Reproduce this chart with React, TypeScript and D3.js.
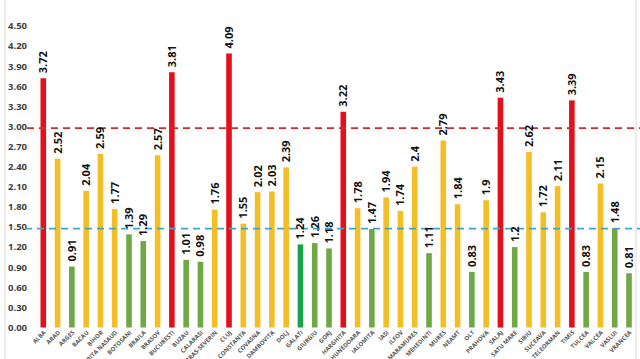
import React from "react";
import * as d3 from "d3";

const counties = ["ALBA","ARAD","ARGES","BACAU","BIHOR","BISTRITA NASAUD","BOTOSANI","BRAILA","BRASOV","BUCURESTI","BUZAU","CALARASI","CARAS-SEVERIN","CLUJ","CONSTANTA","COVASNA","DAMBOVITA","DOLJ","GALATI","GIURGIU","GORJ","HARGHITA","HUNEDOARA","IALOMITA","IASI","ILFOV","MARAMURES","MEHEDINTI","MURES","NEAMT","OLT","PRAHOVA","SALAJ","SATU MARE","SIBIU","SUCEAVA","TELEORMAN","TIMIS","TULCEA","VALCEA","VASLUI","VRANCEA"];
const values = [3.72,2.52,0.91,2.04,2.59,1.77,1.39,1.29,2.57,3.81,1.01,0.98,1.76,4.09,1.55,2.02,2.03,2.39,1.24,1.26,1.18,3.22,1.78,1.47,1.94,1.74,2.4,1.11,2.79,1.84,0.83,1.9,3.43,1.2,2.62,1.72,2.11,3.39,0.83,2.15,1.48,0.81];
const valueLabels = ["3.72","2.52","0.91","2.04","2.59","1.77","1.39","1.29","2.57","3.81","1.01","0.98","1.76","4.09","1.55","2.02","2.03","2.39","1.24","1.26","1.18","3.22","1.78","1.47","1.94","1.74","2.4","1.11","2.79","1.84","0.83","1.9","3.43","1.2","2.62","1.72","2.11","3.39","0.83","2.15","1.48","0.81"];
const tiers = ["r","y","g","y","y","y","g","g","y","r","g","g","y","r","y","y","y","y","G","g","g","r","y","g","y","y","y","g","y","y","g","y","r","g","y","y","y","r","g","y","g","g"];
const yTicks = [0,0.3,0.6,0.9,1.2,1.5,1.8,2.1,2.4,2.7,3.0,3.3,3.6,3.9,4.2,4.5];
const redThreshold = 2.975;
const blueThreshold = 1.475;

const tierColor: Record<string, string> = { r: "#e2101b", y: "#f3bf27", g: "#70a845", G: "#1ba04c" };

export default function App() {
  const W = 640, H = 359;
  const y = d3.scaleLinear().domain([0, 4.5]).range([327.5, 26]);
  const x = d3.scalePoint<string>().domain(counties).range([43.3, 629]);
  const bw = 5.6;
  return (
    <svg width={W} height={H} style={{ position: "absolute", left: 0, top: 0, background: "#fff" }} fontFamily="'Open Sans', 'DejaVu Sans', sans-serif">
      <rect x={0} y={0} width={W} height={H} fill="#fff" />
      <line x1={5} x2={5} y1={0} y2={H} stroke="#d9d9d9" strokeWidth={1} />
      <line x1={636} x2={636} y1={0} y2={H} stroke="#d9d9d9" strokeWidth={1} />
      {yTicks.map((t) => (
        <text key={t} x={27} y={y(t)} dy="0.35em" textAnchor="end" fontSize={9.5} fontWeight={700} fill="#404040">
          {t.toFixed(2)}
        </text>
      ))}
      {counties.map((c, i) => (
        <rect key={c} x={x(c)! - bw / 2} y={y(values[i])} width={bw} height={y(0) - y(values[i])} fill={tierColor[tiers[i]]} />
      ))}
      <line x1={27} x2={640} y1={y(redThreshold)} y2={y(redThreshold)} stroke="#d42a2a" strokeWidth={1.8} strokeDasharray="7 5" />
      <line x1={25} x2={640} y1={y(blueThreshold)} y2={y(blueThreshold)} stroke="#3aa6cf" strokeWidth={1.8} strokeDasharray="7 5" />
      {counties.map((c, i) => {
        const cx = x(c)!;
        const ty = y(values[i]) - 5;
        return (
          <text key={c + "v"} transform={`translate(${cx + 4},${ty}) rotate(-90)`} textAnchor="start" fontSize={11} fontWeight={700} fill="#111">
            {valueLabels[i]}
          </text>
        );
      })}
      {counties.map((c) => {
        const cx = x(c)!;
        return (
          <text key={c + "l"} transform={`translate(${cx + 3},${333}) rotate(-45)`} textAnchor="end" fontSize={6} fontWeight={700} fill="#555">
            {c}
          </text>
        );
      })}
    </svg>
  );
}
